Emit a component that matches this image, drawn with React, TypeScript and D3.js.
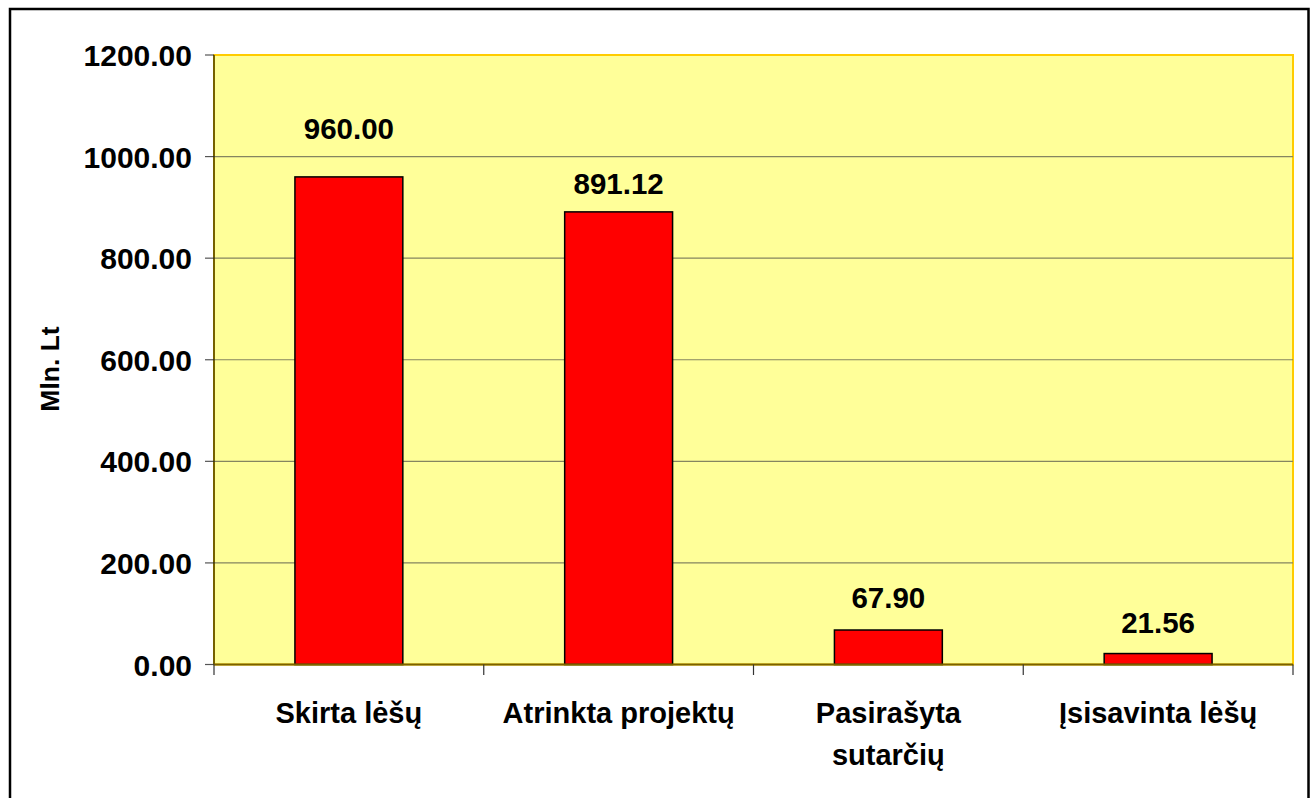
import React from "react";
import * as d3 from "d3";

const categories: string[][] = [
  ["Skirta lėšų"],
  ["Atrinkta projektų"],
  ["Pasirašyta", "sutarčių"],
  ["Įsisavinta lėšų"],
];
const values: number[] = [960.0, 891.12, 67.9, 21.56];
const yTicks: number[] = [0, 200, 400, 600, 800, 1000, 1200];
const yTitle = "Mln. Lt";

// layout (not data)
const LABEL_GAPS = [38, 18, 22, 21];
const W = 1314;
const H = 798;
const PL = 214;
const PR = 1293;
const PT = 55;
const PB = 664.5;
const FONT = "'Liberation Sans', Arial, sans-serif";

export default function App() {
  const x = d3
    .scaleBand<number>()
    .domain(values.map((_, i) => i))
    .range([PL, PR])
    .paddingInner(0.6)
    .paddingOuter(0.3);
  const y = d3.scaleLinear().domain([0, 1200]).range([PB, PT]);
  const step = (PR - PL) / values.length;
  const fmt = d3.format(".2f");
  const boundaries = d3.range(values.length + 1).map((i) => PL + i * step);

  return (
    <svg
      width={W}
      height={H}
      style={{ position: "absolute", left: 0, top: 0, background: "#fff" }}
      fontFamily={FONT}
    >
      <rect x={0} y={0} width={W} height={H} fill="#fff" />
      <rect x={10} y={9} width={1298.5} height={1000} fill="none" stroke="#000" strokeWidth={2.5} />
      {/* plot area */}
      <rect x={PL} y={PT} width={PR - PL} height={PB - PT} fill="#FFFF99" stroke="#FFCC00" strokeWidth={2} />
      {/* gridlines */}
      {yTicks
        .filter((t) => t > 0 && t < 1200)
        .map((t) => (
          <line key={"g" + t} x1={PL} x2={PR} y1={y(t)} y2={y(t)} stroke="#858560" strokeWidth={1.2} />
        ))}
      {/* y ticks */}
      {yTicks.map((t) => (
        <g key={"t" + t}>
          <line x1={205} x2={PL} y1={y(t)} y2={y(t)} stroke="#555" strokeWidth={1.2} />
          <text
            x={192}
            y={y(t) + 11}
            textAnchor="end"
            fontSize={30}
            fontWeight="bold"
            fill="#000"
          >
            {fmt(t)}
          </text>
        </g>
      ))}
      {/* bars */}
      {values.map((v, i) => (
        <rect
          key={"b" + i}
          x={x(i)!}
          y={y(v)}
          width={x.bandwidth()}
          height={PB - y(v)}
          fill="#FF0000"
          stroke="#000"
          strokeWidth={1.5}
        />
      ))}
      {/* axes */}
      <line x1={PL} x2={PL} y1={PT} y2={PB} stroke="#1a1a00" strokeWidth={1.2} />
      <line x1={PL} x2={PR} y1={PB} y2={PB} stroke="#7a6200" strokeWidth={2} />
      {boundaries.map((b, i) => (
        <line key={"xt" + i} x1={b} x2={b} y1={PB} y2={675} stroke="#333" strokeWidth={1.2} />
      ))}
      {/* data labels */}
      {values.map((v, i) => (
        <text
          key={"l" + i}
          x={x(i)! + x.bandwidth() / 2}
          y={y(v) - LABEL_GAPS[i]}
          textAnchor="middle"
          fontSize={29.5}
          fontWeight="bold"
          fill="#000"
        >
          {fmt(v)}
        </text>
      ))}
      {/* category labels */}
      {categories.map((lines, i) => (
        <text
          key={"c" + i}
          x={x(i)! + x.bandwidth() / 2}
          textAnchor="middle"
          fontSize={29}
          fontWeight="bold"
          fill="#000"
        >
          {lines.map((ln, j) => (
            <tspan key={j} x={x(i)! + x.bandwidth() / 2} y={723 + j * 42}>
              {ln}
            </tspan>
          ))}
        </text>
      ))}
      {/* y title */}
      <text
        transform={`translate(59,369) rotate(-90)`}
        textAnchor="middle"
        fontSize={26.5}
        fontWeight="bold"
        fill="#000"
      >
        {yTitle}
      </text>
    </svg>
  );
}
